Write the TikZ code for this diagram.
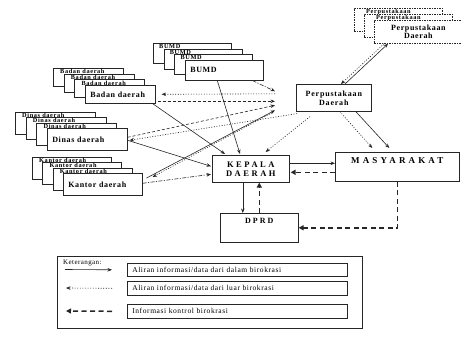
\documentclass[tikz,border=0pt]{standalone}
\usepackage{fontspec}
\setmainfont{Liberation Serif}
\usetikzlibrary{arrows.meta,calc}
\tikzset{
  ink/.style={draw=black!85},
  unitbox/.style={ink, fill=white, line width=0.6pt, anchor=north west, inner xsep=5pt, inner ysep=0pt, align=left,
    font=\fontsize{8}{9}\selectfont\bfseries\addfontfeature{LetterSpace=8}},
  backtxt/.style={anchor=north west, inner sep=0pt, font=\fontsize{6.3}{6.5}\selectfont\bfseries\addfontfeature{LetterSpace=10}},
  centerbox/.style={ink, fill=white, line width=0.6pt, anchor=north west, inner sep=0pt, align=center},
  pusatbox/.style={ink, fill=white, line width=0.7pt, dash pattern=on 1.5pt off 1pt, anchor=north west, inner sep=0pt, align=center,
    font=\fontsize{8}{8.5}\selectfont\bfseries\addfontfeature{LetterSpace=8}},
  entrybox/.style={ink, line width=0.6pt, anchor=north west, inner xsep=5pt, inner ysep=0pt, align=left,
    font=\fontsize{7.5}{8}\selectfont\addfontfeature{LetterSpace=8}},
  tip/.style={-{Stealth[length=4.5pt,width=3.5pt]}},
  solidarr/.style={ink, line width=0.6pt, tip},
  dotarr/.style={ink, line width=0.6pt, dash pattern=on 1pt off 1.6pt, tip},
  dasharr/.style={ink, line width=0.6pt, dash pattern=on 3pt off 2pt, tip},
  dashdotarr/.style={ink, line width=0.6pt, dash pattern=on 4pt off 1.5pt on 1pt off 1.5pt, tip},
  ctrlarr/.style={ink, line width=1.5pt, dash pattern=on 5pt off 3.5pt, -{Triangle[length=5pt,width=5pt]}},
}
\begin{document}
\begin{tikzpicture}[x=1pt,y=-1pt]
\useasboundingbox (0,0) rectangle (462,339);
\fill[white] (0,0) rectangle (462,339);

% ---------- Badan daerah stack
\foreach \i in {0,1,2}{
  \node[unitbox, minimum width=70pt, minimum height=18pt] (badanb\i) at ($(53,68)+\i*(10.7,5.7)$) {};
  \node[backtxt] (badant\i) at ($(badanb\i.north west)+(7,1.2)$) {Badan daerah};
}
\node[unitbox, minimum width=70pt, minimum height=18pt, text width=60pt] (badan) at (85,85) {Badan daerah};

% ---------- BUMD stack
\foreach \i in {0,1,2}{
  \node[unitbox, minimum width=78pt, minimum height=20pt] (bumdb\i) at ($(153,43)+\i*(10.7,5.7)$) {};
  \node[backtxt] (bumdt\i) at ($(bumdb\i.north west)+(6,1.2)$) {BUMD};
}
\node[unitbox, minimum width=78pt, minimum height=20pt, text width=68pt] (bumd) at (185,60) {BUMD};

% ---------- Dinas daerah stack
\foreach \i in {0,1,2}{
  \node[unitbox, minimum width=80pt, minimum height=22pt] (dinasb\i) at ($(15,112)+\i*(10.7,5.3)$) {};
  \node[backtxt] (dinast\i) at ($(dinasb\i.north west)+(7,1.0)$) {Dinas daerah};
}
\node[unitbox, minimum width=80pt, minimum height=22pt, text width=70pt] (dinas) at (47,128) {Dinas daerah};

% ---------- Kantor daerah stack
\foreach \i in {0,1,2}{
  \node[unitbox, minimum width=79pt, minimum height=22pt] (kantorb\i) at ($(32,157)+\i*(10.3,5.3)$) {};
  \node[backtxt] (kantort\i) at ($(kantorb\i.north west)+(7,1.0)$) {Kantor daerah};
}
\node[unitbox, minimum width=79pt, minimum height=22pt, text width=69pt] (kantor) at (63,173) {Kantor daerah};

% ---------- Perpustakaan Daerah (top right, dashed stack)
\foreach \i in {0,1}{
  \node[pusatbox, minimum width=88pt, minimum height=23pt] (pusatb\i) at ($(354,8)+\i*(10,6)$) {};
  \node[backtxt] (pusatt\i) at ($(pusatb\i.north west)+(12,1.0)$) {Perpustakaan};
}
\node[pusatbox, minimum width=88pt, minimum height=23pt] (pusat) at (374,20) {Perpustakaan\\Daerah};

% ---------- central boxes
\node[centerbox, minimum width=75pt, minimum height=27pt,
  font=\fontsize{8}{9}\selectfont\bfseries\addfontfeature{LetterSpace=10}] (perpus) at (296,84) {Perpustakaan\\Daerah};
\node[centerbox, minimum width=77pt, minimum height=27pt,
  font=\fontsize{8.5}{9}\selectfont\bfseries\addfontfeature{LetterSpace=30}] (kepala) at (212,155) {KEPALA\\DAERAH};
\node[centerbox, minimum width=124pt, minimum height=29pt] (masy) at (335,152) {};
\node[anchor=north, inner sep=0pt, font=\fontsize{9}{9}\selectfont\bfseries\addfontfeature{LetterSpace=35}] (masyt) at ($(masy.north)+(0,5)$) {MASYARAKAT};
\node[centerbox, minimum width=78pt, minimum height=29pt] (dprd) at (220,213) {};
\node[anchor=north, inner sep=0pt, font=\fontsize{8}{8}\selectfont\bfseries\addfontfeature{LetterSpace=25}] (dprdt) at ($(dprd.north)+(0,5)$) {DPRD};

% ---------- connectors
\draw[dashdotarr] ([xshift=-11pt]bumd.south east) -- ([xshift=-21pt,yshift=6.5pt]perpus.west);
\draw[dotarr] ([xshift=-21pt,yshift=4pt]perpus.west) -- ([xshift=6pt]badan.east);
\draw[dasharr] ([xshift=2pt,yshift=-7pt]badan.east) -- ([xshift=-21pt,yshift=-3.5pt]perpus.west);
\draw[dasharr] ([yshift=2pt]dinas.east) -- ([xshift=-21pt,yshift=-7.5pt]perpus.west);
\draw[solidarr] ([xshift=4pt,yshift=-5pt]kantor.north east) -- ([xshift=-21pt,yshift=-12.5pt]perpus.west);
\draw[dotarr] ([xshift=-24pt,yshift=-15pt]perpus.west) -- ([xshift=10pt,yshift=-4pt]kantor.north east);
\draw[dotarr] ([xshift=1pt,yshift=-2pt]perpus.south west) -- ([xshift=2pt,yshift=-1pt]dinas.east);
\draw[dotarr] ([xshift=14pt,yshift=-5pt]perpus.south west) -- ([xshift=-24pt,yshift=3pt]kepala.north east);
\draw[solidarr] ([xshift=-3pt]badan.south east) -- ([xshift=13pt,yshift=1pt]kepala.north west);
\draw[solidarr] ([xshift=-7pt]bumd.south) -- ([xshift=28pt,yshift=1pt]kepala.north west);
\draw[solidarr] ([yshift=-1pt]dinas.east) -- ([xshift=-1pt,yshift=2.5pt]kepala.west);
\draw[dashdotarr] ([yshift=1pt]kantor.east) -- ([xshift=-1pt,yshift=-5.5pt]kepala.west);
\draw[dotarr] ([xshift=6pt]perpus.south) -- ([xshift=-25pt,yshift=4pt]masy.north);
\draw[solidarr] ([xshift=22pt]perpus.south) -- ([xshift=-8pt,yshift=4pt]masy.north);
\draw[solidarr] ([xshift=49pt]perpus.north west) -- ([xshift=14pt]pusat.south west);
\draw[dotarr] ([xshift=10pt]pusat.south west) -- ([xshift=45pt]perpus.north west);
\draw[solidarr] ([yshift=5.5pt]kepala.east) -- ([yshift=3.5pt]masy.west);
\draw[ctrlarr] ([yshift=-5.5pt]masy.west) -- ([xshift=1pt,yshift=-3.5pt]kepala.east);
\draw[solidarr] ([xshift=-8pt]kepala.south) -- ([xshift=-16.5pt]dprd.north);
\draw[ctrlarr] (dprd.north) -- ([xshift=8.5pt]kepala.south);
\draw[ctrlarr] (masy.south) |- (dprd.east);

% ---------- legend
\node[ink, line width=0.6pt, anchor=north west, minimum width=305pt, minimum height=72pt, inner sep=0pt] (legend) at (57,256) {};
\node[anchor=north west, inner sep=0pt, font=\fontsize{7}{7}\selectfont\addfontfeature{LetterSpace=6}] (ket) at ($(legend.north west)+(6,4)$) {Keterangan:};
\node[entrybox, minimum width=220pt, minimum height=13pt, text width=210pt] (e1) at (127,263) {Aliran informasi/data dari dalam birokrasi};
\node[entrybox, minimum width=220pt, minimum height=14pt, text width=210pt] (e2) at (127,281) {Aliran informasi/data dari luar birokrasi};
\node[entrybox, minimum width=220pt, minimum height=14pt, text width=210pt] (e3) at (127,304) {Informasi kontrol birokrasi};
\coordinate (k1) at (65,269.5);
\coordinate (k2) at (66,288);
\coordinate (k3) at (66,311);
\draw[solidarr] (k1) -- ([xshift=-15pt]e1.west);
\draw[dotarr] ([xshift=-15pt]e2.west) -- (k2);
\draw[ctrlarr] ([xshift=-15pt]e3.west) -- (k3);
\end{tikzpicture}
\end{document}
